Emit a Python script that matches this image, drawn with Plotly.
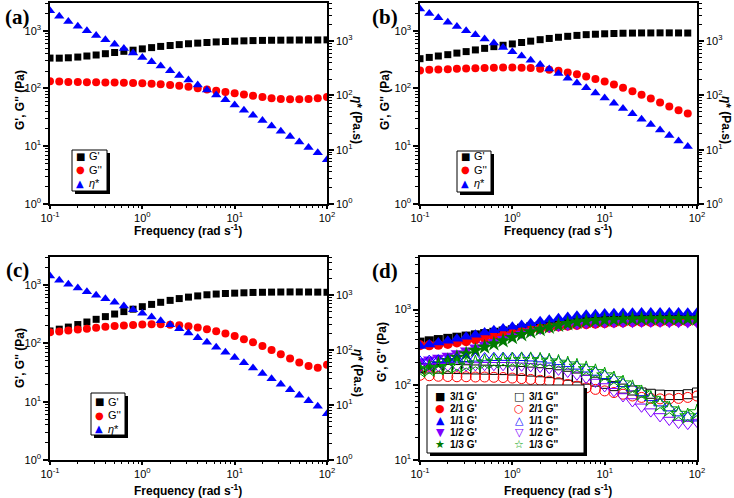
import plotly.graph_objects as go

# frequency (rad/s), 10 points per decade
freq = [0.1, 0.126, 0.158, 0.2, 0.251, 0.316, 0.398, 0.501, 0.631, 0.794,
        1, 1.26, 1.58, 2, 2.51, 3.16, 3.98, 5.01, 6.31, 7.94,
        10, 12.6, 15.8, 20, 25.1, 31.6, 39.8, 50.1, 63.1, 79.4, 100]
freq_b = [0.1, 0.126, 0.158, 0.2, 0.251, 0.316, 0.398, 0.501, 0.631, 0.794,
          1, 1.26, 1.58, 2, 2.51, 3.16, 3.98, 5.01, 6.31, 7.94,
          10, 12.6, 15.8, 20, 25.1, 31.6, 39.8, 50.1, 63.1, 79.4]

# (a)  2/1 sample
a_g1 = [336, 335, 340, 350, 365, 380, 400, 420, 440, 460, 485, 510, 535, 555, 575, 595,
        610, 625, 640, 650, 660, 668, 675, 680, 684, 686, 688, 690, 690, 692, 695]
a_g2 = [134, 132, 130, 129, 128, 128, 127, 127, 126, 125, 123, 121, 118, 115, 112, 107,
        101, 96, 91, 87, 83, 79, 75, 71, 68, 66, 65, 65, 66, 68, 71]
a_eta = [3620, 2860, 2300, 1865, 1540, 1270, 1055, 876, 726, 601, 500, 416, 346, 284, 233, 191,
         155, 126, 102, 83, 66.5, 53.4, 43, 34.4, 27.4, 21.8, 17.4, 13.9, 11, 8.8, 6.5]

# (b)  1/1 sample
b_g1 = [328, 345, 365, 385, 410, 435, 465, 495, 530, 560, 590, 625, 660, 700, 735, 770,
        800, 830, 855, 870, 885, 895, 905, 910, 915, 915, 918, 918, 915, 912]
b_g2 = [205, 210, 213, 216, 219, 222, 225, 227, 229, 230, 230, 229, 226, 220, 212, 202,
        190, 176, 161, 146, 132, 117, 103, 90, 78, 67, 57, 49, 42, 37]
b_eta = [3870, 3200, 2670, 2210, 1850, 1545, 1298, 1087, 915, 762, 633, 528, 441, 368, 305, 252,
         207, 169, 138, 111, 89.5, 71.7, 57.5, 45.9, 36.5, 29, 23.1, 18.3, 14.5, 11.5]

# (c)  1/3 sample
c_g1 = [163, 175, 190, 210, 232, 258, 287, 318, 350, 385, 425, 465, 505, 545, 585, 620,
        650, 680, 700, 715, 725, 735, 745, 750, 755, 758, 760, 760, 758, 755, 750]
c_g2 = [155, 160, 166, 172, 178, 185, 192, 198, 203, 207, 210, 212, 212, 209, 204, 196,
        186, 174, 161, 147, 133, 118, 104, 90, 77, 65, 55, 47, 41, 38, 43]
c_eta = [2250, 1880, 1595, 1360, 1165, 1004, 868, 748, 641, 550, 474, 405, 346, 293, 247, 206,
         170, 140, 114, 92, 73.7, 59, 47.6, 37.9, 30.2, 24.1, 19.1, 15.2, 12.0, 9.5, 7.0]

# (d)  all ratios
d_31_g1 = [370, 385, 400, 415, 430, 445, 462, 480, 500, 520, 540, 565, 590, 612, 635, 655,
           672, 688, 700, 712, 720, 730, 738, 745, 752, 758, 762, 765, 768, 770, 772]
d_31_g2 = [166, 165, 164, 163, 162, 161, 160, 159, 158, 157, 155, 153, 150, 147, 143, 138,
           132, 125, 117, 110, 103, 96, 89, 84, 79, 76, 74, 73, 73, 75, 79]
d_11_g1 = [328, 345, 365, 385, 410, 435, 465, 495, 530, 560, 590, 625, 660, 700, 735, 770,
           800, 830, 855, 870, 885, 895, 905, 910, 915, 915, 918, 918, 915, 912, 910]
d_11_g2 = [205, 210, 213, 216, 219, 222, 225, 227, 229, 230, 230, 229, 226, 220, 212, 202,
           190, 176, 161, 146, 132, 117, 103, 90, 78, 67, 57, 49, 42, 37, 36]
d_12_g1 = [207, 218, 230, 245, 265, 288, 315, 345, 375, 410, 445, 480, 515, 545, 572, 595,
           615, 630, 643, 652, 660, 665, 668, 670, 672, 672, 672, 670, 668, 666, 664]
d_12_g2 = [172, 174, 176, 178, 179, 180, 181, 182, 182, 182, 181, 179, 176, 172, 166, 158,
           148, 136, 123, 109, 95, 82, 70, 60, 51, 44, 38, 34, 31, 30, 32]

W, H = 734, 498
def px(x): return x / W
def py(y): return 1 - y / H

FONT = "Liberation Sans"
SYMFONT = "DejaVu Sans"
major_x = [0.1, 1, 10, 100]
major_x_txt = ["10<sup>-1</sup>", "10<sup>0</sup>", "10<sup>1</sup>", "10<sup>2</sup>"]
major_y = [1, 10, 100, 1000]
major_y_txt = ["10<sup>0</sup>", "10<sup>1</sup>", "10<sup>2</sup>", "10<sup>3</sup>"]
minor_vals = [m * 10.0 ** e for e in range(-1, 4) for m in range(2, 10)]


def log_axis(rng, vals, txt, ticklen=5, **kw):
    d = dict(type="log", range=rng, tickmode="array", tickvals=vals, ticktext=txt,
             showline=True, linecolor="black", linewidth=1.5, ticks="outside",
             ticklen=ticklen, tickwidth=1.5, tickcolor="black", showgrid=False, zeroline=False,
             automargin=False, tickfont=dict(family=FONT, size=11, color="black"),
             minor=dict(tickmode="array", tickvals=minor_vals, ticks="outside",
                        ticklen=max(ticklen - 2, 2), tickwidth=1, tickcolor="black",
                        showgrid=False))
    d.update(kw)
    return d


fig = go.Figure()

panels = [
    ("x", "y", "y5", freq, a_g1, a_g2, a_eta),
    ("x2", "y2", "y6", freq_b, b_g1, b_g2, b_eta),
    ("x3", "y3", "y7", freq, c_g1, c_g2, c_eta),
]
for xa, ya, yr, f, g1, g2, eta in panels:
    fig.add_trace(go.Scatter(x=f, y=g1, mode="markers", name="G'", xaxis=xa, yaxis=ya,
                             marker=dict(symbol="square", size=7, color="black")))
    fig.add_trace(go.Scatter(x=f, y=g2, mode="markers", name="G''", xaxis=xa, yaxis=ya,
                             marker=dict(symbol="circle", size=8, color="#ff0000")))
    fig.add_trace(go.Scatter(x=f, y=eta, mode="markers", name="η*", xaxis=xa, yaxis=yr,
                             marker=dict(symbol="triangle-up", size=9, color="#0000ff")))

d_filled = [("3/1 G'", d_31_g1, "square", "black", 9, "■"),
            ("2/1 G'", a_g1, "circle", "#ff0000", 10, "●"),
            ("1/1 G'", d_11_g1, "triangle-up", "#0000ff", 11, "▲"),
            ("1/2 G'", d_12_g1, "triangle-down", "#8000ff", 11, "▼"),
            ("1/3 G'", c_g1, "star", "#007a00", 12, "★")]
d_open = [("3/1 G''", d_31_g2, "square-open", "black", 9, "□"),
          ("2/1 G''", a_g2, "circle-open", "#ff0000", 10, "○"),
          ("1/1 G''", d_11_g2, "triangle-up-open", "#0000ff", 11, "△"),
          ("1/2 G''", d_12_g2, "triangle-down-open", "#8000ff", 11, "▽"),
          ("1/3 G''", c_g2, "star-open", "#00a000", 12, "☆")]
for name, vals, sym, col, sz, _ in d_filled:
    fig.add_trace(go.Scatter(x=freq, y=vals, mode="markers", name=name, xaxis="x4", yaxis="y4",
                             marker=dict(symbol=sym, size=sz, color=col)))
for name, vals, sym, col, sz, _ in d_open:
    fig.add_trace(go.Scatter(x=freq, y=vals, mode="markers", name=name, xaxis="x4", yaxis="y4",
                             marker=dict(symbol=sym, size=sz, color=col, line=dict(width=1, color=col))))

L, R, L2, R2 = 50, 327, 420, 697
T1, B1, T2, B2 = 3, 204, 257, 460
xdomL = [px(L), px(R)]
xdomR = [px(L2), px(R2)]
ydomT = [py(B1), py(T1)]
ydomB = [py(B2), py(T2)]

layout = dict(
    template="none", width=W, height=H, margin=dict(l=0, r=0, t=0, b=0, pad=0),
    paper_bgcolor="white", plot_bgcolor="white", showlegend=False,
    font=dict(family=FONT, color="black"),
    xaxis=log_axis([-1, 2], major_x, major_x_txt, 3, domain=xdomL, anchor="y", mirror=True),
    xaxis2=log_axis([-1, 2], major_x, major_x_txt, 3, domain=xdomR, anchor="y2", mirror=True),
    xaxis3=log_axis([-1, 2], major_x, major_x_txt, 3, domain=xdomL, anchor="y3", mirror=True),
    xaxis4=log_axis([-1, 2], major_x, major_x_txt, 3, domain=xdomR, anchor="y4", mirror=True),
    yaxis=log_axis([0, 3.48], major_y, major_y_txt, domain=ydomT, anchor="x"),
    yaxis2=log_axis([0, 3.48], major_y, major_y_txt, domain=ydomT, anchor="x2"),
    yaxis3=log_axis([0, 3.48], major_y, major_y_txt, domain=ydomB, anchor="x3"),
    yaxis4=log_axis([1, 3.7], major_y, major_y_txt, domain=ydomB, anchor="x4", mirror=True),
    yaxis5=log_axis([0, 3.7], major_y, major_y_txt, overlaying="y", side="right", anchor="x"),
    yaxis6=log_axis([0, 3.7], major_y, major_y_txt, overlaying="y2", side="right", anchor="x2"),
    yaxis7=log_axis([0, 3.7], major_y, major_y_txt, overlaying="y3", side="right", anchor="x3"),
)

# legend boxes with a drop shadow
boxes = [(72, 150, 107, 191), (457, 151, 491, 192), (91, 393, 125, 435), (427, 385, 584, 453)]
shapes = []
for x0, y0, x1, y1 in boxes:
    shapes.append(dict(type="rect", xref="paper", yref="paper", layer="above",
                       x0=px(x0 + 3), x1=px(x1 + 3), y0=py(y1 + 3), y1=py(y0 + 3),
                       fillcolor="black", line=dict(width=0)))
    shapes.append(dict(type="rect", xref="paper", yref="paper", layer="above",
                       x0=px(x0), x1=px(x1), y0=py(y1), y1=py(y0),
                       fillcolor="white", line=dict(color="black", width=1)))
layout["shapes"] = shapes

ann = []
def text(x, y, s, size=12, angle=0, family=FONT, color="black", xanchor="center"):
    ann.append(dict(x=px(x), y=py(y), xref="paper", yref="paper", text=s, showarrow=False,
                    xanchor=xanchor, yanchor="middle", textangle=angle,
                    font=dict(family=family, size=size, color=color)))

xt = "<b>Frequency (rad s<sup>-1</sup>)</b>"
gt = "<b>G', G'' (Pa)</b>"
et = "<b><i>η</i>* (Pa.s)</b>"
for cx, cy in [(188, 230), (558, 230), (188, 490), (558, 490)]:
    text(cx, cy, xt)
for cx, cy in [(20, 100), (385, 100), (20, 358), (382, 352)]:
    text(cx, cy, gt, angle=-90)
for cx, cy in [(357, 120), (726, 120), (358, 373)]:
    text(cx, cy, et, angle=90)
for cx, cy, s in [(17, 17, "(a)"), (385, 17, "(b)"), (17, 270, "(c)"), (385, 271, "(d)")]:
    text(cx, cy, "<b>" + s + "</b>", size=21, family="Liberation Serif")

# legend entries (a)-(c)
abc_entries = [("■", "black", "G'"), ("●", "#ff0000", "G''"), ("▲", "#0000ff", "<i>η</i>*")]
for sx, tx, rows in [(80, 87, [156, 169.5, 183]), (465, 472, [156, 169.5, 183]),
                     (99, 106, [401.5, 415, 428.5])]:
    for (g, col, lab), ry in zip(abc_entries, rows):
        text(sx, ry, g, size=10, family=SYMFONT, color=col)
        text(tx, ry, lab, size=11, xanchor="left")

# legend entries (d), two columns
d_rows = [396, 408.5, 420.5, 432.5, 444.5]
for (name, _, _, col, _, g), ry in zip(d_filled, d_rows):
    text(440, ry, g, size=11, family=SYMFONT, color=col)
    text(448, ry, "<b>" + name + "</b>", size=10, xanchor="left")
for (name, _, _, col, _, g), ry in zip(d_open, d_rows):
    text(519, ry, g, size=11, family=SYMFONT, color=col)
    text(527, ry, "<b>" + name + "</b>", size=10, xanchor="left")

layout["annotations"] = ann

fig.update_layout(**layout)
# the page body has a default 8px margin; drop it so the figure fills the window
fig.write_html("out.html", config={"displayModeBar": False},
               post_script="document.body.style.margin='0';")
